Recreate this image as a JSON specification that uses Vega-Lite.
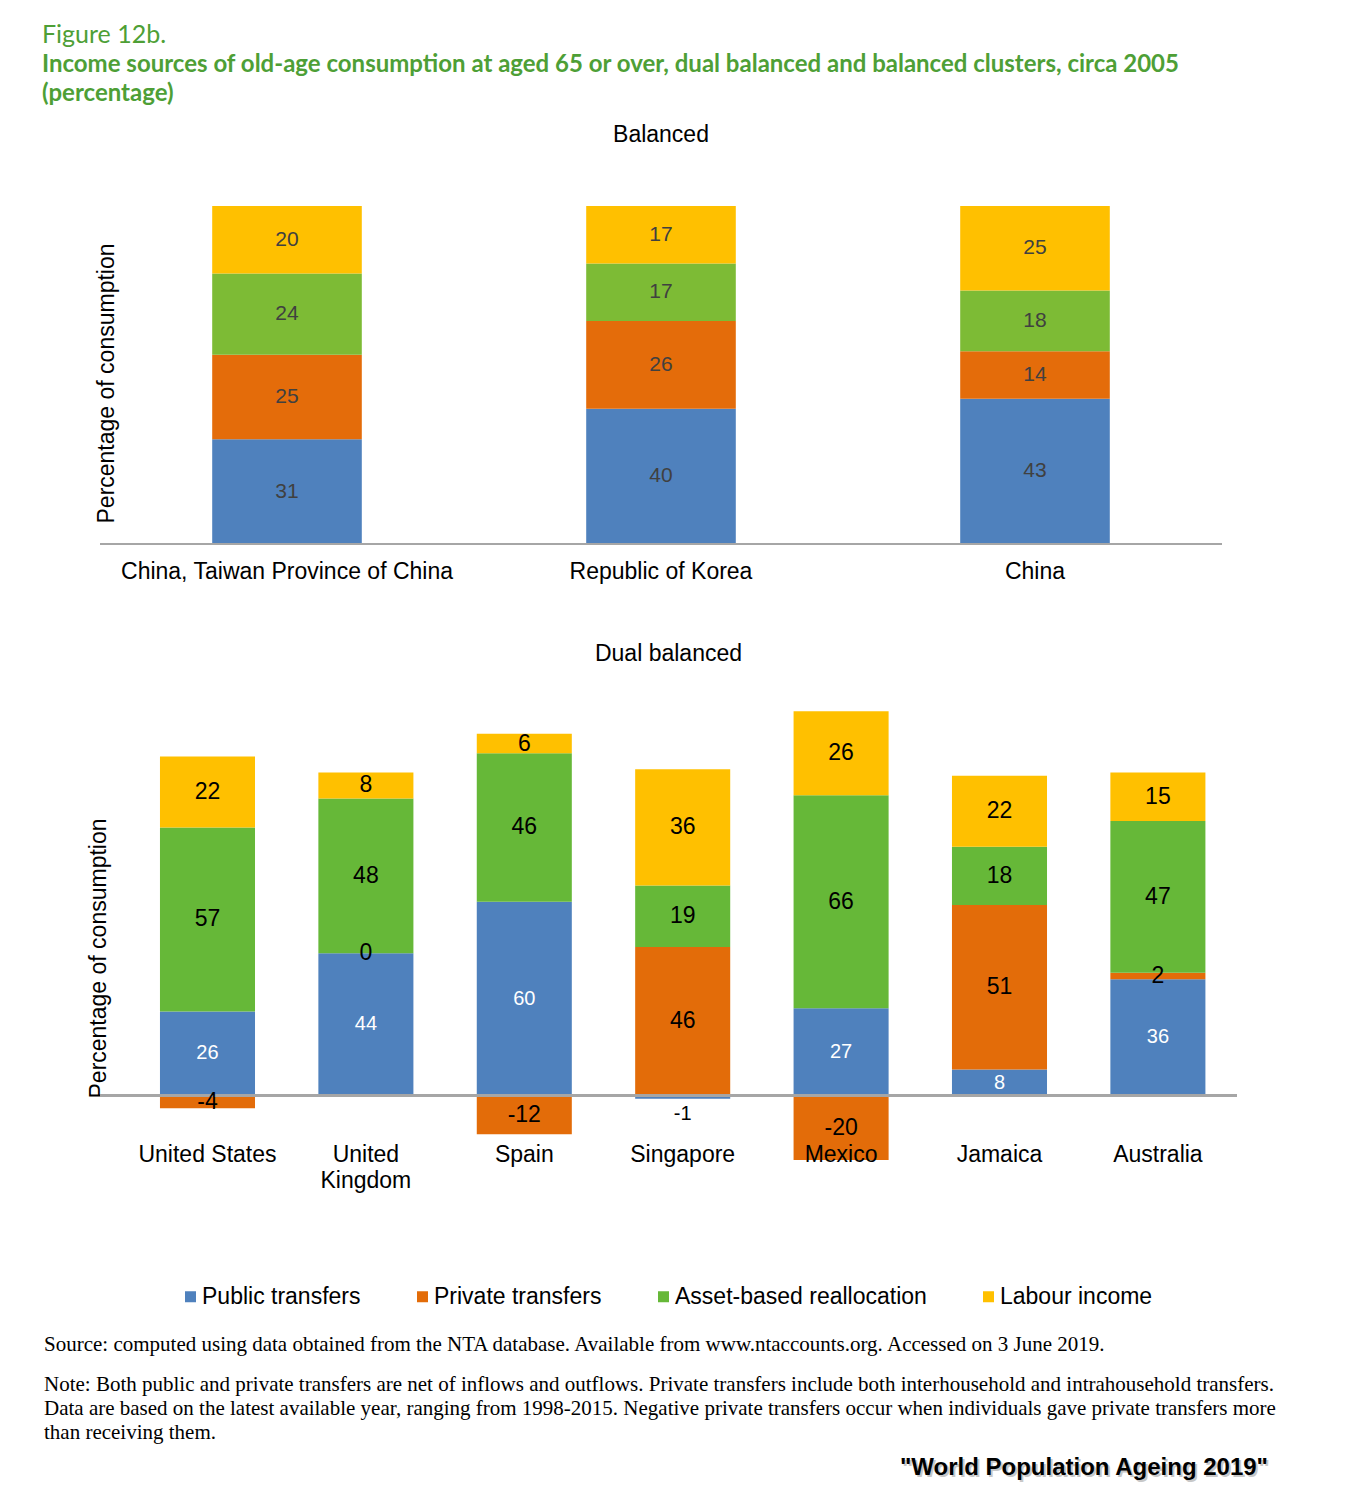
{
  "$schema": "https://vega.github.io/schema/vega-lite/v6.json",
  "background": "white",
  "padding": {"left": 42, "top": 22, "right": 10, "bottom": 10},
  "title": {
    "text": "Figure 12b.",
    "subtitle": [
      "Income sources of old-age consumption at aged 65 or over,  dual balanced and balanced clusters, circa 2005",
      "(percentage)"
    ],
    "anchor": "start",
    "dx": -2,
    "font": "Lato",
    "fontSize": 25,
    "fontWeight": "normal",
    "color": "#4E9F36",
    "subtitleFont": "Lato",
    "subtitleFontSize": 24,
    "subtitleFontWeight": "bold",
    "subtitleColor": "#4E9F36",
    "subtitleLineHeight": 29,
    "subtitlePadding": 5.5,
    "offset": 18
  },
  "datasets": {
    "balanced": [
      {"country": "China, Taiwan Province of China", "source": "Public transfers", "k": 1, "value": 31},
      {"country": "China, Taiwan Province of China", "source": "Private transfers", "k": 2, "value": 25},
      {"country": "China, Taiwan Province of China", "source": "Asset-based reallocation", "k": 3, "value": 24},
      {"country": "China, Taiwan Province of China", "source": "Labour income", "k": 4, "value": 20},
      {"country": "Republic of Korea", "source": "Public transfers", "k": 1, "value": 40},
      {"country": "Republic of Korea", "source": "Private transfers", "k": 2, "value": 26},
      {"country": "Republic of Korea", "source": "Asset-based reallocation", "k": 3, "value": 17},
      {"country": "Republic of Korea", "source": "Labour income", "k": 4, "value": 17},
      {"country": "China", "source": "Public transfers", "k": 1, "value": 43},
      {"country": "China", "source": "Private transfers", "k": 2, "value": 14},
      {"country": "China", "source": "Asset-based reallocation", "k": 3, "value": 18},
      {"country": "China", "source": "Labour income", "k": 4, "value": 25}
    ],
    "dual": [
      {"country": "United States", "source": "Public transfers", "k": 1, "value": 26},
      {"country": "United States", "source": "Private transfers", "k": 2, "value": -4},
      {"country": "United States", "source": "Asset-based reallocation", "k": 3, "value": 57},
      {"country": "United States", "source": "Labour income", "k": 4, "value": 22},
      {"country": "United Kingdom", "source": "Public transfers", "k": 1, "value": 44},
      {"country": "United Kingdom", "source": "Private transfers", "k": 2, "value": 0},
      {"country": "United Kingdom", "source": "Asset-based reallocation", "k": 3, "value": 48},
      {"country": "United Kingdom", "source": "Labour income", "k": 4, "value": 8},
      {"country": "Spain", "source": "Public transfers", "k": 1, "value": 60},
      {"country": "Spain", "source": "Private transfers", "k": 2, "value": -12},
      {"country": "Spain", "source": "Asset-based reallocation", "k": 3, "value": 46},
      {"country": "Spain", "source": "Labour income", "k": 4, "value": 6},
      {"country": "Singapore", "source": "Public transfers", "k": 1, "value": -1},
      {"country": "Singapore", "source": "Private transfers", "k": 2, "value": 46},
      {"country": "Singapore", "source": "Asset-based reallocation", "k": 3, "value": 19},
      {"country": "Singapore", "source": "Labour income", "k": 4, "value": 36},
      {"country": "Mexico", "source": "Public transfers", "k": 1, "value": 27},
      {"country": "Mexico", "source": "Private transfers", "k": 2, "value": -20},
      {"country": "Mexico", "source": "Asset-based reallocation", "k": 3, "value": 66},
      {"country": "Mexico", "source": "Labour income", "k": 4, "value": 26},
      {"country": "Jamaica", "source": "Public transfers", "k": 1, "value": 8},
      {"country": "Jamaica", "source": "Private transfers", "k": 2, "value": 51},
      {"country": "Jamaica", "source": "Asset-based reallocation", "k": 3, "value": 18},
      {"country": "Jamaica", "source": "Labour income", "k": 4, "value": 22},
      {"country": "Australia", "source": "Public transfers", "k": 1, "value": 36},
      {"country": "Australia", "source": "Private transfers", "k": 2, "value": 2},
      {"country": "Australia", "source": "Asset-based reallocation", "k": 3, "value": 47},
      {"country": "Australia", "source": "Labour income", "k": 4, "value": 15}
    ],
    "footer": [
      {"label": "\"World Population Ageing 2019\""}
    ]
  },
  "spacing": 25,
  "vconcat": [
    {
      "spacing": 60,
      "resolve": {"scale": {"color": "independent"}},
      "vconcat": [
        {
          "title": {"text": "Balanced", "offset": 59},
          "width": 1122,
          "height": 338,
          "data": {"name": "balanced"},
          "layer": [
            {
              "mark": {"type": "bar"},
              "encoding": {
                "x": {
                  "field": "country", "type": "nominal",
                  "sort": ["China, Taiwan Province of China", "Republic of Korea", "China"],
                  "scale": {"paddingInner": 0.6, "paddingOuter": 0.3},
                  "axis": {"title": null, "labelAngle": 0, "labelPadding": 16, "ticks": false, "domain": false, "labelLimit": 0}
                },
                "y": {
                  "field": "value", "type": "quantitative", "stack": "zero",
                  "scale": {"domain": [0, 100], "nice": false},
                  "axis": {
                    "title": "Percentage of consumption",
                    "labels": false, "ticks": false, "domain": false, "grid": false,
                    "titlePadding": -18, "titleY": 177
                  }
                },
                "color": {
                  "field": "source", "type": "nominal",
                  "scale": {
                    "domain": ["Public transfers", "Private transfers", "Asset-based reallocation", "Labour income"],
                    "range": ["#4F81BD", "#E46C0A", "#7DBB35", "#FFC000"]
                  },
                  "legend": null
                },
                "order": {"field": "k"}
              }
            },
            {
              "mark": {"type": "rule", "color": "#A6A6A6", "strokeWidth": 2},
              "encoding": {
                "y": {
                  "datum": 0, "type": "quantitative",
                  "axis": {
                    "title": "Percentage of consumption",
                    "labels": false, "ticks": false, "domain": false, "grid": false,
                    "titlePadding": -18, "titleY": 177
                  }
                }
              }
            },
            {
              "mark": {"type": "text", "fontSize": 21, "color": "#404040", "baseline": "middle"},
              "encoding": {
                "x": {"field": "country", "type": "nominal", "sort": ["China, Taiwan Province of China", "Republic of Korea", "China"]},
                "y": {
                  "field": "value", "type": "quantitative", "stack": "zero", "bandPosition": 0.5,
                  "axis": {
                    "title": "Percentage of consumption",
                    "labels": false, "ticks": false, "domain": false, "grid": false,
                    "titlePadding": -18, "titleY": 177
                  }
                },
                "detail": {"field": "source"},
                "order": {"field": "k"},
                "text": {"field": "value", "type": "nominal"}
              }
            }
          ]
        },
        {
          "title": {"text": "Dual balanced", "offset": 42},
          "width": 1137,
          "height": 452,
          "data": {"name": "dual"},
          "layer": [
            {
              "mark": {"type": "bar"},
              "encoding": {
                "x": {
                  "field": "country", "type": "nominal",
                  "sort": ["United States", "United Kingdom", "Spain", "Singapore", "Mexico", "Jamaica", "Australia"],
                  "scale": {"paddingInner": 0.4, "paddingOuter": 0.289, "align": 0.655},
                  "axis": {
                    "title": null, "labelAngle": 0, "labelPadding": -17, "ticks": false, "domain": false,
                    "labelLineHeight": 26, "zindex": 1, "labelLimit": 0,
                    "labelExpr": "datum.label == 'United Kingdom' ? ['United', 'Kingdom'] : datum.label"
                  }
                },
                "y": {
                  "field": "value", "type": "quantitative", "stack": "zero",
                  "scale": {"domain": [-20, 120], "nice": false},
                  "axis": {
                    "title": "Percentage of consumption",
                    "labels": false, "ticks": false, "domain": false, "grid": false,
                    "titlePadding": -10, "titleY": 250
                  }
                },
                "color": {
                  "field": "source", "type": "nominal",
                  "scale": {
                    "domain": ["Public transfers", "Private transfers", "Asset-based reallocation", "Labour income"],
                    "range": ["#4F81BD", "#E36C09", "#66B838", "#FFC000"]
                  },
                  "legend": {
                    "title": null, "orient": "none", "direction": "horizontal",
                    "legendX": 79, "legendY": 577,
                    "symbolType": "square", "symbolSize": 121, "symbolStrokeWidth": 0,
                    "labelFontSize": 23, "labelOffset": 0, "columnPadding": 50, "labelLimit": 0
                  }
                },
                "order": {"field": "k"}
              }
            },
            {
              "mark": {"type": "rule", "color": "#A6A6A6", "strokeWidth": 2},
              "encoding": {
                "y": {
                  "datum": 0, "type": "quantitative",
                  "axis": {
                    "title": "Percentage of consumption",
                    "labels": false, "ticks": false, "domain": false, "grid": false,
                    "titlePadding": -10, "titleY": 250
                  }
                }
              }
            },
            {
              "transform": [{"filter": "datum.value >= 0 || datum.value <= -3"}],
              "mark": {"type": "text", "baseline": "middle"},
              "encoding": {
                "x": {"field": "country", "type": "nominal", "sort": ["United States", "United Kingdom", "Spain", "Singapore", "Mexico", "Jamaica", "Australia"]},
                "y": {
                  "field": "value", "type": "quantitative", "stack": "zero", "bandPosition": 0.5,
                  "axis": {
                    "title": "Percentage of consumption",
                    "labels": false, "ticks": false, "domain": false, "grid": false,
                    "titlePadding": -10, "titleY": 250
                  }
                },
                "detail": {"field": "source"},
                "order": {"field": "k"},
                "text": {"field": "value", "type": "nominal"},
                "size": {
                  "condition": {"test": "datum.source == 'Public transfers'", "value": 20},
                  "value": 23
                },
                "color": {
                  "condition": {"test": "datum.source == 'Public transfers'", "value": "white"},
                  "value": "black"
                }
              }
            },
            {
              "transform": [{"filter": "datum.value < 0 && datum.value > -3"}],
              "mark": {"type": "text", "baseline": "middle", "dy": 17, "fontSize": 20, "color": "black"},
              "encoding": {
                "x": {"field": "country", "type": "nominal", "sort": ["United States", "United Kingdom", "Spain", "Singapore", "Mexico", "Jamaica", "Australia"]},
                "y": {
                  "field": "value", "type": "quantitative", "stack": "zero", "bandPosition": 0.5,
                  "axis": {
                    "title": "Percentage of consumption",
                    "labels": false, "ticks": false, "domain": false, "grid": false,
                    "titlePadding": -10, "titleY": 250
                  }
                },
                "detail": {"field": "source"},
                "order": {"field": "k"},
                "text": {"field": "value", "type": "nominal"}
              }
            }
          ]
        }
      ]
    },
    {
      "width": 1168,
      "height": 30,
      "data": {"name": "footer"},
      "title": {
        "text": "Source: computed using data obtained from the NTA database. Available from www.ntaccounts.org. Accessed on 3 June 2019.",
        "subtitle": [
          "Note: Both public and private transfers are net of inflows and outflows. Private transfers include both interhousehold and intrahousehold transfers.",
          "Data are based on the latest available year, ranging from 1998-2015. Negative private transfers occur when individuals gave private transfers more",
          "than receiving them."
        ],
        "anchor": "start",
        "dx": -56,
        "font": "Liberation Serif",
        "fontSize": 21,
        "fontWeight": "normal",
        "color": "black",
        "subtitleFont": "Liberation Serif",
        "subtitleFontSize": 21,
        "subtitleColor": "black",
        "subtitleLineHeight": 24,
        "subtitlePadding": 19,
        "offset": 10
      },
      "encoding": {
        "text": {"field": "label", "type": "nominal"},
        "x": {"value": "width"}
      },
      "layer": [
        {"mark": {"type": "text", "align": "right", "baseline": "middle", "font": "Liberation Sans", "fontSize": 24, "fontWeight": "bold", "color": "#C8C8C8", "dx": 2, "dy": 2}},
        {"mark": {"type": "text", "align": "right", "baseline": "middle", "font": "Liberation Sans", "fontSize": 24, "fontWeight": "bold", "color": "black"}}
      ]
    }
  ],
  "config": {
    "font": "Liberation Sans",
    "view": {"stroke": null},
    "title": {"font": "Liberation Sans", "fontSize": 23, "fontWeight": "normal", "color": "black"},
    "axis": {
      "labelFont": "Liberation Sans", "labelFontSize": 23, "labelColor": "black",
      "titleFont": "Liberation Sans", "titleFontSize": 23, "titleFontWeight": "normal", "titleColor": "black"
    },
    "legend": {"labelFont": "Liberation Sans", "labelColor": "black"},
    "text": {"font": "Liberation Sans"}
  }
}
